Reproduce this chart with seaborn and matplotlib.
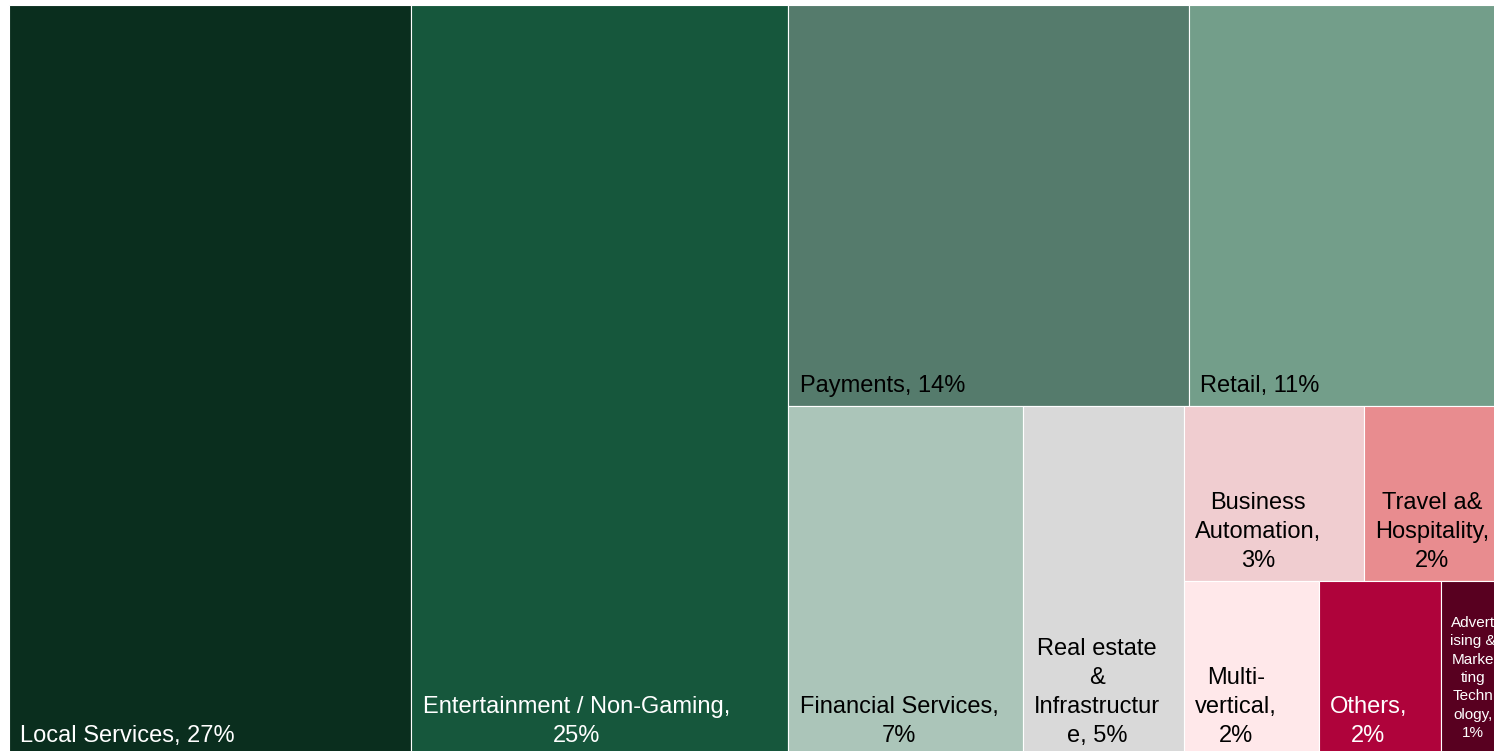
import matplotlib
matplotlib.use('Agg')
import matplotlib.pyplot as plt
from matplotlib.patches import Rectangle
import seaborn as sns


# shares (%)
CATEGORIES = ['Local Services', 'Entertainment / Non-Gaming', 'Payments', 'Retail',
              'Financial Services', 'Real estate & Infrastructure',
              'Business Automation', 'Travel & Hospitality', 'Multi-vertical',
              'Others', 'Advertising & Marketing Technology']
SHARES = [26.9, 25.2, 14.3, 11.3, 7.3, 5.0, 2.8, 2.2, 2.1, 1.9, 1.0]
LABELS = ['Local Services, 27%',
          'Entertainment / Non-Gaming,\n25%',
          'Payments, 14%',
          'Retail, 11%',
          'Financial Services,\n7%',
          'Real estate\n&\nInfrastructur\ne, 5%',
          'Business\nAutomation,\n3%',
          'Travel a&\nHospitality,\n2%',
          'Multi-\nvertical,\n2%',
          'Others,\n2%',
          'Advert\nising &\nMarke\nting\nTechn\nology,\n1%']
COLORS = ['#0a2e1e', '#16573c', '#557b6c', '#739e8a', '#abc5b9', '#d9d9d9',
          '#f0cdd0', '#e88c8f', '#ffe8ea', '#af033b', '#580020']
TEXT_COLORS = ['white', 'white', 'black', 'black', 'black', 'black',
               'black', 'black', 'black', 'white', 'white']

# nesting of the tiles (indices into the lists above); splits alternate x / y
TREE = [0, 1, [[2, 3], [4, 5, [[6, 7], [8, 9, 10]]]]]


def total(node):
    if isinstance(node, int):
        return SHARES[node]
    return sum(total(n) for n in node)


def layout(node, x, y, w, h, split_x, out):
    if isinstance(node, int):
        out[node] = (x, y, w, h)
        return
    t = total(node)
    for child in node:
        f = total(child) / t
        if split_x:
            layout(child, x, y, w * f, h, not split_x, out)
            x += w * f
        else:
            layout(child, x, y, w, h * f, not split_x, out)
            y += h * f


sns.set_theme(style='white')
plt.rcParams['font.family'] = ['Liberation Sans', 'DejaVu Sans']

fig = plt.figure(figsize=(14.94, 7.51), dpi=100)
ax = fig.add_axes([9 / 1494, -5 / 751, 1496 / 1494, 1.0])
ax.set_xlim(0, 1)
ax.set_ylim(1, 0)
ax.axis('off')

rects = {}
layout(TREE, 0, 0, 1, 1, True, rects)

for i, name in enumerate(CATEGORIES):
    x, y, w, h = rects[i]
    ax.add_patch(Rectangle((x, y), w, h, facecolor=COLORS[i],
                           edgecolor='white', linewidth=0.8))
    if i == 10:
        ax.annotate(LABELS[i], xy=(x + w / 2, y + h), xytext=(0, 13.5),
                    textcoords='offset points', ha='center', va='baseline',
                    multialignment='center', fontsize=11,
                    color=TEXT_COLORS[i], linespacing=1.4)
    else:
        ax.annotate(LABELS[i], xy=(x, y + h), xytext=(8, 10),
                    textcoords='offset points', ha='left', va='baseline',
                    multialignment='center', fontsize=17,
                    color=TEXT_COLORS[i], linespacing=1.42)

fig.savefig('out.png', dpi=100)
